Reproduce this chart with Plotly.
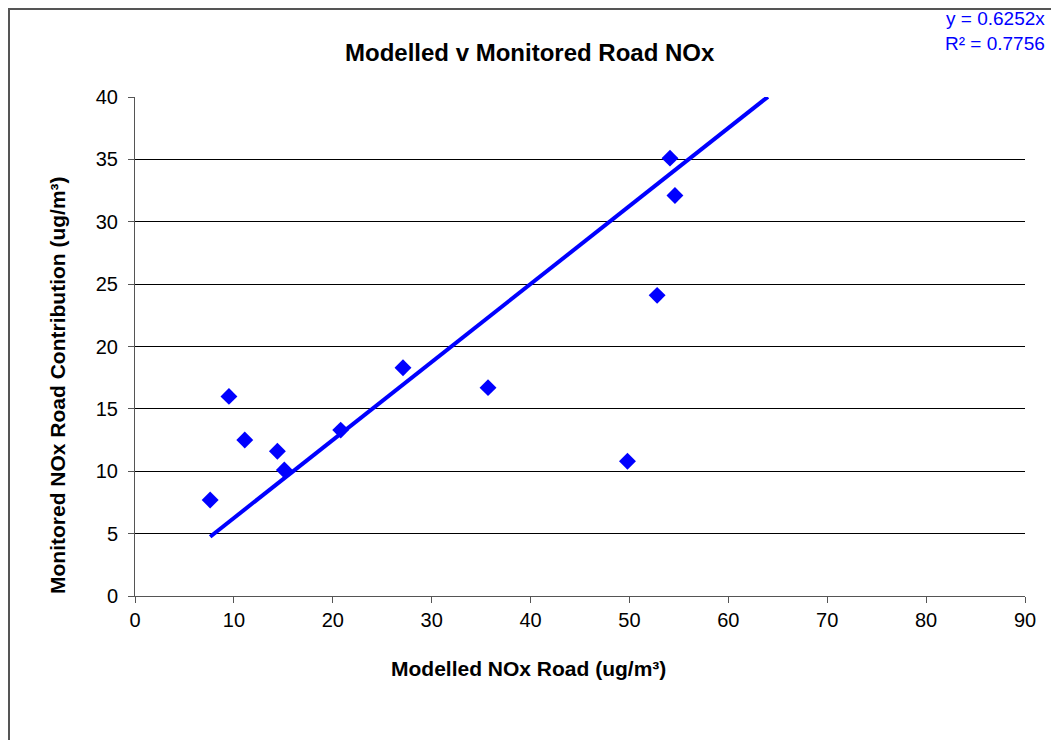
import plotly.graph_objects as go

# Data
modelled_x = [7.6, 9.5, 11.1, 14.4, 15.1, 20.8, 27.1, 35.7, 49.8, 52.8, 54.1, 54.6]
monitored_y = [7.7, 16.0, 12.5, 11.6, 10.1, 13.3, 18.3, 16.7, 10.8, 24.1, 35.1, 32.1]
slope = 0.6252
r_squared = 0.7756
trend_x = [7.6, 64.0]
trend_y = [slope * v for v in trend_x]

x_ticks = [0, 10, 20, 30, 40, 50, 60, 70, 80, 90]
y_ticks = [0, 5, 10, 15, 20, 25, 30, 35, 40]

FONT = "Liberation Sans, Arial, sans-serif"
OFF = 8  # page body margin
W, H = 1059 - OFF, 740 - OFF
# plot area in screen pixels: x 135..1025, y 97..596
PL, PR, PT, PB = 135, 1025, 97, 596
ML, MT = PL - OFF, PT - OFF
PW, PH = PR - PL, PB - PT
MR, MB = W - ML - PW, H - MT - PH


def px(x):
    return (x - PL) / PW


def py(y):
    return (PB - y) / PH


fig = go.Figure()
fig.add_trace(go.Scatter(
    x=trend_x, y=trend_y, mode="lines",
    line=dict(color="#0000FF", width=4), hoverinfo="skip", showlegend=False,
))
fig.add_trace(go.Scatter(
    x=modelled_x, y=monitored_y, mode="markers",
    marker=dict(symbol="diamond", size=13, color="#0000FF"),
    showlegend=False, cliponaxis=False,
))

fig.update_layout(
    width=W, height=H,
    margin=dict(l=ML, r=MR, t=MT, b=MB, pad=0),
    paper_bgcolor="white", plot_bgcolor="white",
    font=dict(family=FONT, size=21, color="black"),
    showlegend=False,
    xaxis=dict(
        range=[0, 90], tickvals=x_ticks, ticktext=[str(v) for v in x_ticks],
        showgrid=False, zeroline=False, showline=True, linecolor="#555555", linewidth=1,
        ticks="outside", ticklen=6, tickcolor="#555555",
        tickfont=dict(family=FONT, size=20, color="black"),
    ),
    yaxis=dict(
        range=[0, 40], tickvals=y_ticks, ticktext=[str(v) for v in y_ticks],
        showgrid=True, gridcolor="black", gridwidth=1, zeroline=False,
        showline=True, linecolor="#555555", linewidth=1,
        ticks="outside", ticklen=6, tickcolor="#555555", ticklabelstandoff=6,
        tickfont=dict(family=FONT, size=20, color="black"),
    ),
    shapes=[
        dict(type="rect", xref="paper", yref="paper",
             x0=px(9), x1=px(1100), y0=py(800), y1=py(9),
             line=dict(color="#555555", width=2), fillcolor="rgba(0,0,0,0)", layer="below"),
    ],
    annotations=[
        dict(text="<b>Modelled v Monitored Road NOx</b>", xref="paper", yref="paper",
             x=px(530), y=py(53), xanchor="center", yanchor="middle", showarrow=False,
             font=dict(family=FONT, size=24, color="black")),
        dict(text="<b>Modelled NOx Road (ug/m³)</b>", xref="paper", yref="paper",
             x=px(528), y=py(668), xanchor="center", yanchor="middle", showarrow=False,
             font=dict(family=FONT, size=21, color="black")),
        dict(text="<b>Monitored NOx Road Contribution (ug/m³)</b>", xref="paper", yref="paper",
             x=px(57), y=py(385), xanchor="center", yanchor="middle", showarrow=False,
             textangle=-90, font=dict(family=FONT, size=21, color="black")),
        dict(text=f"y = {slope}x<br>R² = {r_squared}", xref="paper", yref="paper",
             x=px(1047), y=py(31), xanchor="right", yanchor="middle", align="right",
             showarrow=False, font=dict(family=FONT, size=19, color="#0000FF")),
    ],
)

fig.write_html("out.html")
